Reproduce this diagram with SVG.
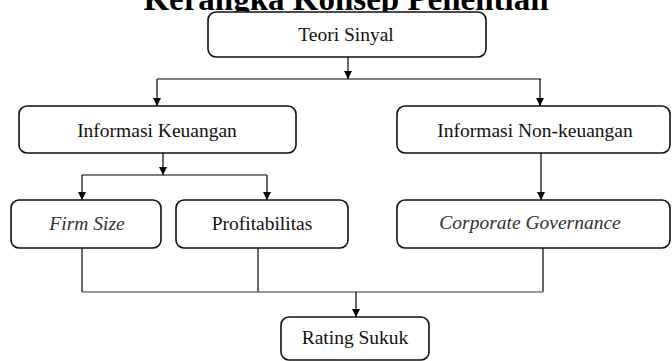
<svg xmlns="http://www.w3.org/2000/svg" width="672" height="361" viewBox="0 0 672 361">
<style>
.box{fill:#fff;stroke:#111;stroke-width:1.6}
.t{font-family:"Liberation Serif","Times New Roman",serif;font-size:19.5px;fill:#111;text-anchor:middle}
.it{font-style:italic;fill:#333}
.ttl{font-family:"Liberation Serif","Times New Roman",serif;font-size:33px;font-weight:bold;fill:#000;text-anchor:middle}
.c{stroke:#000;stroke-width:1.2;fill:none}
.g{stroke:#777;stroke-width:1.4;fill:none}
</style>
<defs>
<marker id="ah" viewBox="0 0 10 10" refX="10" refY="5" markerWidth="8" markerHeight="8" markerUnits="userSpaceOnUse" orient="auto">
<path d="M0,0 L10,5 L0,10 z" fill="#000"/>
</marker>
</defs>
<text class="ttl" x="346" y="10">Kerangka Konsep Penelitian</text>
<g id="connectors">
<line class="c" x1="348" y1="57" x2="348" y2="79" marker-end="url(#ah)"/>
<line class="c" x1="157" y1="79" x2="541" y2="79"/>
<line class="c" x1="157" y1="79" x2="157" y2="106" marker-end="url(#ah)"/>
<line class="c" x1="540" y1="79" x2="540" y2="106" marker-end="url(#ah)"/>
<line class="c" x1="163" y1="153" x2="163" y2="175" marker-end="url(#ah)"/>
<line class="c" x1="82" y1="175" x2="267" y2="175"/>
<line class="c" x1="82" y1="175" x2="82" y2="200" marker-end="url(#ah)"/>
<line class="c" x1="267" y1="175" x2="267" y2="200" marker-end="url(#ah)"/>
<line class="c" x1="541" y1="153" x2="541" y2="200" marker-end="url(#ah)"/>
<line class="c" x1="82" y1="248" x2="82" y2="292"/>
<line class="c" x1="258" y1="248" x2="258" y2="292"/>
<line class="c" x1="543" y1="248" x2="543" y2="292"/>
<line class="g" x1="82" y1="292" x2="543" y2="292"/>
<line class="c" x1="356" y1="292" x2="356" y2="317" marker-end="url(#ah)"/>
</g>
<g id="teori-sinyal">
<rect class="box" x="208" y="12" width="278" height="45" rx="8"/>
<text class="t" x="346" y="41">Teori Sinyal</text>
</g>
<g id="informasi-keuangan">
<rect class="box" x="19" y="106" width="277" height="47" rx="8"/>
<text class="t" x="157" y="137">Informasi Keuangan</text>
</g>
<g id="informasi-non-keuangan">
<rect class="box" x="397" y="106" width="273" height="47" rx="8"/>
<text class="t" x="535" y="137">Informasi Non-keuangan</text>
</g>
<g id="firm-size">
<rect class="box" x="11" y="200" width="150" height="48" rx="8"/>
<text class="t it" x="87" y="230">Firm Size</text>
</g>
<g id="profitabilitas">
<rect class="box" x="176" y="200" width="172" height="48" rx="8"/>
<text class="t" x="262" y="230">Profitabilitas</text>
</g>
<g id="corporate-governance">
<rect class="box" x="397" y="200" width="273" height="48" rx="8"/>
<text class="t it" x="530" y="229">Corporate Governance</text>
</g>
<g id="rating-sukuk">
<rect class="box" x="281" y="317" width="148" height="43" rx="8"/>
<text class="t" x="355" y="344">Rating Sukuk</text>
</g>
</svg>
